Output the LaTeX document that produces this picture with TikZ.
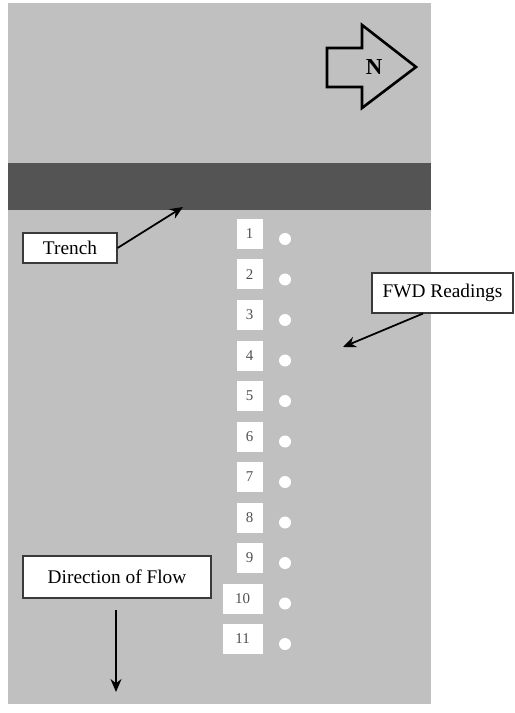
\documentclass[tikz,border=0pt]{standalone}
\usepackage{fontspec}
\setmainfont{Liberation Serif}
\usetikzlibrary{arrows.meta,calc,positioning}
\definecolor{ground}{HTML}{C0C0C0}
\definecolor{trenchgray}{HTML}{545454}
\definecolor{boxline}{HTML}{3A3A3A}
\definecolor{numgray}{HTML}{505050}

\begin{document}
\begin{tikzpicture}[>=Stealth,x=0.2mm,y=-0.2mm,
  label box/.style={draw=boxline,line width=0.6pt,fill=white,font=\fontsize{11}{13}\selectfont,inner sep=0pt},
  num box/.style={fill=white,font=\fontsize{8.5}{10}\selectfont,text=numgray,minimum height=6mm,inner sep=0pt,anchor=east},
  point/.style={circle,fill=white,minimum size=2.4mm,inner sep=0pt},
  pointer/.style={->,line width=1pt,>={Stealth[length=2.6mm,width=2.2mm]}}]
  \useasboundingbox (0,0) rectangle (514,713);
  \fill[ground] (8,3) rectangle (431,704);
  \fill[trenchgray] (8,163) rectangle (431,210);
  % north arrow
  \draw[line width=1.5pt,line join=miter] (327,48) -- (362,48) -- (362,25) -- (416,67) -- (362,108) -- (362,87) -- (327,87) -- cycle;
  \node[font=\fontsize{13}{15}\selectfont\bfseries] (north) at (374,67) {N};
  % FWD points
  \foreach \i in {1,...,11}{
    \pgfmathsetmacro{\w}{\i<10 ? 5.2 : 8}
    \node[num box,minimum width=\w mm] (n\i) at (263,{234+40.5*(\i-1)}) {\i};
    \node[point] (p\i) at (285,{239+40.5*(\i-1)}) {};
  }
  % labels
  \node[label box,minimum width=18.8mm,minimum height=6mm] (trench) at (70,248) {Trench};
  \coordinate (trenchpt) at (183,207);
  \draw[pointer] (trench.east) -- (trenchpt);
  \node[label box,minimum width=28.2mm,minimum height=8mm] (fwd) at (442.5,293) {FWD Readings};
  \coordinate (fwdpt) at (343,347);
  \draw[pointer] ([xshift=-3.9mm]fwd.south) -- (fwdpt);
  \node[label box,minimum width=37.6mm,minimum height=8.4mm] (flow) at (117,577) {Direction of Flow};
  \coordinate (flowtop) at (116,610);
  \coordinate (flowend) at (116,692);
  \draw[pointer] (flowtop) -- (flowend);
\end{tikzpicture}
\end{document}
